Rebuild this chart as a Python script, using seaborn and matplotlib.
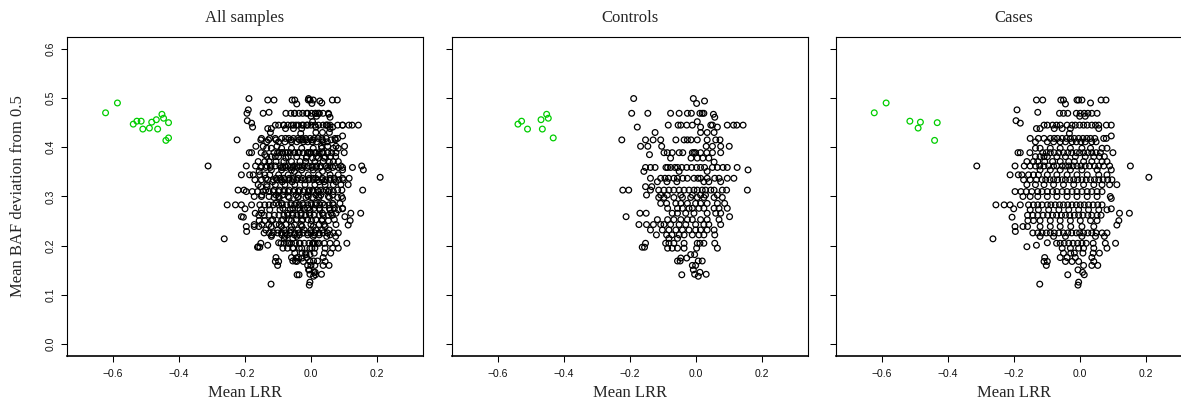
import numpy as np
import pandas as pd
import matplotlib
matplotlib.use("Agg")
import matplotlib.pyplot as plt
import seaborn as sns

# each control row: one mean BAF deviation value and the mean LRR values on it
ctrl_baf = [0.499, 0.494, 0.489, 0.469, 0.467, 0.461, 0.452, 0.445, 0.441, 0.430,
            0.415, 0.402, 0.389, 0.385, 0.378, 0.370, 0.359, 0.354, 0.351, 0.337,
            0.330, 0.320, 0.313, 0.303, 0.298, 0.286, 0.276, 0.266, 0.259, 0.253,
            0.243, 0.232, 0.222, 0.215, 0.205, 0.197, 0.195, 0.182, 0.175, 0.169,
            0.160, 0.151, 0.146, 0.142, 0.141, 0.138]
ctrl_lrr = [
    [-0.188, -0.007], [0.027], [0.003],
    [-0.194, -0.145, -0.076, -0.050, -0.025, -0.013, 0.013, 0.020, 0.025],
    [0.054], [0.058], [0.005],
    [-0.083, -0.053, -0.045, -0.027, -0.010, 0.046, 0.051, 0.096, 0.115, 0.125, 0.144],
    [-0.177, 0.066, 0.015],
    [-0.123, 0.015, 0.035, 0.056],
    [-0.224, -0.152, -0.129, -0.106, -0.060, -0.035, -0.025, -0.014, 0.005, 0.035, 0.061, 0.074],
    [-0.167, -0.145, -0.103, 0.032, 0.051, 0.076, 0.102],
    [-0.096, -0.086, -0.071, -0.050, -0.039, -0.010, -0.005, 0.000, 0.015, 0.034, 0.051, 0.076],
    [-0.140],
    [-0.076, -0.014, 0.005, 0.022, 0.040],
    [0.056],
    [-0.152, -0.137, -0.123, -0.090, -0.085, -0.076, -0.063, -0.055, -0.042, -0.027,
     -0.012, 0.003, 0.015, 0.027, 0.051, 0.066, 0.083, 0.096, 0.126],
    [0.159],
    [-0.157, -0.050, 0.035],
    [-0.137, -0.106, -0.093, -0.082, -0.066, -0.055, -0.039, -0.025, -0.005, 0.007,
     0.015, 0.035, 0.058, 0.071, 0.096, 0.116],
    [-0.116, -0.087, -0.057, 0.025, 0.040, 0.076],
    [-0.152, -0.133],
    [-0.221, -0.203, -0.137, -0.112, -0.096, -0.081, -0.066, -0.050, -0.035, -0.020,
     -0.005, 0.005, 0.020, 0.030, 0.046, 0.056, 0.081, 0.094, 0.157],
    [-0.149, -0.106, -0.086, -0.045, -0.010, 0.015, 0.030, 0.066],
    [-0.112, -0.096, -0.066, -0.040, -0.015, 0.005, 0.025, 0.056, 0.081],
    [-0.106, -0.088, -0.060, -0.045, -0.025, 0.000, 0.015, 0.035, 0.066, 0.088],
    [-0.085, -0.055, -0.040, -0.020, -0.010, 0.010, 0.025, 0.056, 0.071, 0.096],
    [-0.169, -0.150, -0.071, -0.055, -0.030, -0.005, 0.035, 0.061, 0.076],
    [-0.211, 0.103],
    [-0.116, -0.085, -0.066, -0.045, -0.025, -0.010, 0.015, 0.035, 0.071],
    [-0.172, -0.149, -0.128, -0.106, -0.096, -0.076, -0.050, -0.030, 0.000, 0.025, 0.040, 0.076],
    [-0.137, -0.101, -0.081, -0.060, -0.040, -0.020, 0.000, 0.015, 0.035, 0.056],
    [-0.119, -0.088, -0.072, -0.050, -0.035, -0.010, 0.010, 0.025, 0.058],
    [-0.081, -0.055],
    [-0.152, -0.091, -0.081, -0.066, -0.035, 0.005, 0.013, 0.025, 0.058],
    [-0.162, -0.155],
    [-0.085, -0.071, -0.055, -0.035, 0.003, 0.066],
    [-0.015, -0.003], [-0.045, -0.027], [-0.055, -0.047, 0.008, 0.020],
    [-0.010, 0.000], [-0.007], [0.013], [-0.003, 0.032], [-0.042], [0.008],
]

case_baf = [0.496, 0.490, 0.488, 0.476, 0.471, 0.469, 0.463, 0.454, 0.449, 0.445,
            0.438, 0.428, 0.423, 0.418, 0.411, 0.398, 0.389, 0.381, 0.371, 0.362,
            0.354, 0.344, 0.339, 0.334, 0.324, 0.310, 0.300, 0.296, 0.283, 0.275,
            0.273, 0.266, 0.262, 0.258, 0.251, 0.242, 0.239, 0.229, 0.226, 0.219,
            0.214, 0.206, 0.205, 0.201, 0.198, 0.195, 0.185, 0.176, 0.168, 0.160,
            0.151, 0.146, 0.141, 0.126, 0.122, 0.120]
case_lrr = [
    [-0.131, -0.112, -0.057, -0.049, -0.008, -0.003, 0.007, 0.065, 0.080],
    [0.033], [-0.043], [-0.190], [-0.127],
    [-0.061, -0.049, -0.036, -0.010, 0.002, 0.014, 0.025, 0.037, 0.053],
    [0.000, 0.017], [-0.193], [-0.180],
    [-0.108, -0.098, -0.082, -0.070, -0.059, -0.038, -0.023, -0.013, 0.000, 0.012,
     0.023, 0.037, 0.048, 0.058, 0.081, 0.096],
    [-0.131, -0.120, -0.077, -0.053, -0.028, 0.058],
    [-0.031], [0.096],
    [-0.150, -0.125, -0.108, -0.089, -0.077, -0.067, -0.053, -0.040, -0.028, -0.016,
     -0.003, 0.010, 0.022, 0.033, 0.046, 0.073, 0.081],
    [-0.134, -0.098, -0.079, -0.059, -0.043, -0.023, -0.010, 0.004, 0.017, 0.037, 0.050],
    [-0.134, -0.120, -0.089, -0.059, -0.028, 0.007, 0.033, 0.068, 0.083],
    [-0.187, -0.180, -0.151, -0.112, -0.101, -0.089, -0.077, -0.063, -0.049, -0.036,
     -0.024, -0.010, 0.000, 0.012, 0.025, 0.037, 0.050, 0.063, 0.101],
    [-0.134, -0.120, -0.108, -0.098, -0.069, -0.043, -0.013, 0.017, 0.043, 0.060, 0.075],
    [-0.160, -0.140, -0.127, -0.106, -0.082, -0.059, -0.033, -0.016, 0.012, 0.037, 0.068, 0.083],
    [-0.312, -0.196, -0.168, -0.150, -0.134, -0.121, -0.108, -0.094, -0.079, -0.069,
     -0.053, -0.043, -0.033, -0.020, -0.008, 0.004, 0.017, 0.030, 0.045, 0.058,
     0.073, 0.091, 0.154],
    [-0.120, -0.089, -0.059, -0.028, 0.007, 0.053, 0.096],
    [-0.211, -0.186, -0.175, -0.155, -0.140, -0.125, -0.098, -0.069, -0.038, -0.008,
     0.023, 0.058, 0.083],
    [0.210],
    [-0.170, -0.150, -0.131, -0.114, -0.103, -0.090, -0.079, -0.067, -0.053, -0.043,
     -0.030, -0.018, -0.006, 0.007, 0.020, 0.033, 0.045, 0.058, 0.071, 0.085, 0.098],
    [-0.160, -0.134, -0.108, -0.079, -0.049, -0.018, 0.012, 0.043, 0.068, 0.091, 0.113],
    [-0.196, -0.178, -0.162, -0.145, -0.127, -0.114, -0.098, -0.082, -0.069, -0.053,
     -0.038, -0.023, -0.008, 0.007, 0.023, 0.037, 0.053, 0.068],
    [-0.172, -0.150, -0.127, -0.098, -0.069, -0.038, -0.008, 0.023, 0.053, 0.093],
    [0.096],
    [-0.254, -0.229, -0.211, -0.180, -0.155, -0.140, -0.127, -0.114, -0.098, -0.087,
     -0.074, -0.061, -0.049, -0.036, -0.023, -0.010, 0.002, 0.014, 0.027, 0.041,
     0.055, 0.068],
    [-0.200, 0.096],
    [-0.150, -0.125, -0.094, -0.063, -0.033, -0.003, 0.027, 0.058, 0.083],
    [0.121, 0.151],
    [-0.158, -0.142, -0.127, -0.111, -0.097, -0.082, -0.070, -0.055, -0.043, -0.030,
     -0.016, -0.003, 0.010, 0.025, 0.037, 0.053, 0.065],
    [-0.205],
    [-0.157, -0.140, -0.120, -0.089, -0.059, -0.028, 0.002, 0.033, 0.053, 0.119],
    [0.113],
    [-0.196, -0.172, -0.158, -0.120, -0.089, -0.059, -0.027, 0.007, 0.043],
    [-0.195],
    [-0.142, -0.127, -0.114, -0.101, -0.089, -0.077, -0.063, -0.049, -0.036, -0.024,
     -0.010, 0.000, 0.012, 0.025, 0.037, 0.050, 0.068, 0.083],
    [-0.120, -0.079, -0.043, 0.007, 0.048, 0.075],
    [-0.263], [-0.098],
    [-0.070, -0.059, -0.047, -0.033, -0.020, -0.006, 0.007, 0.020, 0.041, 0.078, 0.109],
    [-0.131], [-0.160],
    [-0.053, -0.028, -0.003, 0.012, 0.043, 0.083],
    [-0.049, -0.027, -0.016, 0.010, 0.041, 0.060],
    [-0.106, -0.059, -0.038, -0.013, 0.037],
    [-0.108, -0.098, -0.043, -0.023, -0.003, 0.043],
    [-0.101, 0.012, 0.037, 0.055],
    [-0.005], [0.009], [-0.036, 0.014], [-0.003], [-0.121], [-0.005],
]

# flagged samples, drawn in green
ctrl_out_lrr = [-0.539, -0.528, -0.510, -0.469, -0.452, -0.447, -0.465, -0.432]
ctrl_out_baf = [0.447, 0.453, 0.437, 0.456, 0.467, 0.459, 0.437, 0.419]
case_out_lrr = [-0.623, -0.587, -0.515, -0.483, -0.490, -0.432, -0.440]
case_out_baf = [0.470, 0.490, 0.453, 0.451, 0.439, 0.450, 0.414]

panel_titles = ["All samples", "Controls", "Cases"]
x_ticks = [-0.6, -0.4, -0.2, 0.0, 0.2]
y_ticks = [0.0, 0.1, 0.2, 0.3, 0.4, 0.5, 0.6]


def build_frame(baf_rows, lrr_rows, out_lrr, out_baf):
    recs = []
    for y, xs in zip(baf_rows, lrr_rows):
        for x in xs:
            recs.append((x, y, "ok"))
    for x, y in zip(out_lrr, out_baf):
        recs.append((x, y, "out"))
    return pd.DataFrame(recs, columns=["lrr", "baf", "flag"])


ctrl_df = build_frame(ctrl_baf, ctrl_lrr, ctrl_out_lrr, ctrl_out_baf)
case_df = build_frame(case_baf, case_lrr, case_out_lrr, case_out_baf)
all_df = pd.concat([ctrl_df, case_df], ignore_index=True)

sns.set_style("white")
plt.rcParams["font.family"] = ["Liberation Sans", "DejaVu Sans"]

SERIF = "Liberation Serif"
W, H = 1181, 407
fig = plt.figure(figsize=(W / 100, H / 100), dpi=100)
fig.patch.set_facecolor("white")

lefts = [67, 451.7, 835.7]
ax_top, ax_bot, ax_w = 37, 356, 356

for i, (left, title, df) in enumerate(zip(lefts, panel_titles, [all_df, ctrl_df, case_df])):
    ax = fig.add_axes([left / W, (H - ax_bot) / H, ax_w / W, (ax_bot - ax_top) / H])
    sns.scatterplot(data=df, x="lrr", y="baf", hue="flag", hue_order=["ok", "out"],
                    palette={"ok": "black", "out": "#00CD00"}, s=17, linewidth=0.9,
                    legend=False, ax=ax)
    # open circles like R's pch=1
    for coll in ax.collections:
        fc = coll.get_facecolors()
        coll.set_edgecolors(fc)
        coll.set_facecolors("none")

    ax.set_xlim(-0.74, 0.34)
    ax.set_ylim(-0.024, 0.624)
    ax.set_xticks(x_ticks)
    ax.set_xticklabels([f"{v:.1f}".replace("-", "\u2212") for v in x_ticks])
    ax.set_yticks(y_ticks)
    if i == 0:
        ax.set_yticklabels([f"{v:.1f}" for v in y_ticks], rotation=90, va="center")
        ax.set_ylabel("Mean BAF deviation from 0.5", family=SERIF, fontsize=12)
        ax.yaxis.set_label_coords(-0.115, 0.5)
    else:
        ax.tick_params(axis="y", labelleft=False)
        ax.set_ylabel("")

    ax.tick_params(axis="both", direction="out", length=4.3, width=0.75,
                   color="black", labelsize=7.5, labelcolor="#111111", pad=5,
                   bottom=True, left=True, top=False, right=False)
    ax.tick_params(axis="y", pad=4)
    ax.set_xlabel("Mean LRR", family=SERIF, fontsize=12)
    ax.xaxis.set_label_coords(0.5, -0.09)
    ax.set_title(title, family=SERIF, fontsize=12, pad=11)

    for side in ["top", "right", "left", "bottom"]:
        ax.spines[side].set_visible(True)
        ax.spines[side].set_color("black")
        ax.spines[side].set_linewidth(0.8)
    ax.spines["bottom"].set_linewidth(1.2)

fig.savefig("out.png", dpi=100, facecolor="white")
plt.close(fig)
